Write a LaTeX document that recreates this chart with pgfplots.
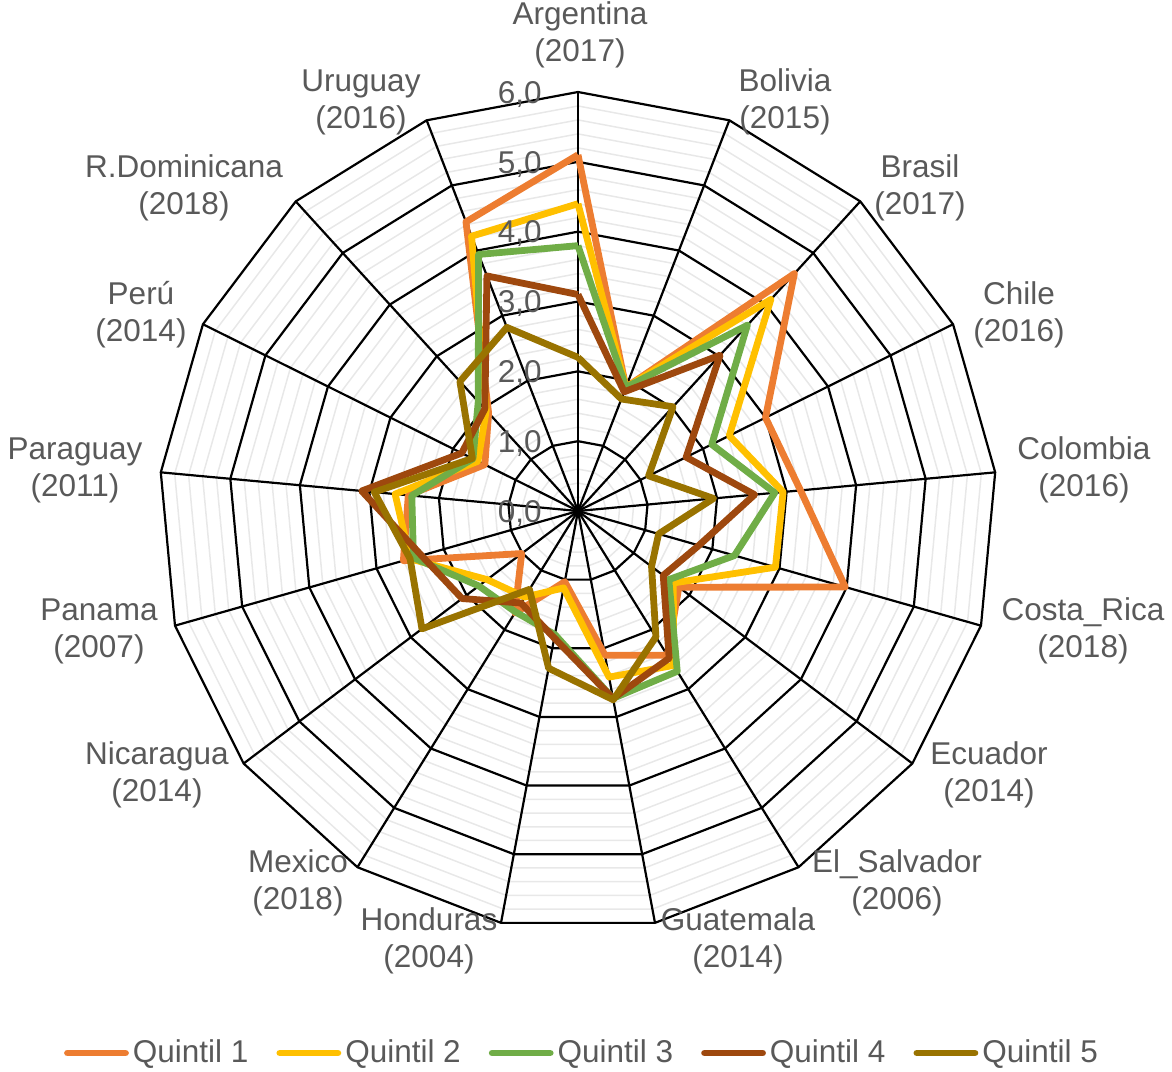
\documentclass[border=0pt]{standalone}
\usepackage{pgfplots}
\pgfplotsset{compat=1.18}
\usepackage{pgfplotstable}
\usepgfplotslibrary{polar}
\usepackage{fontspec}
\setmainfont{Liberation Sans}
\definecolor{qa}{HTML}{ED7D31}
\definecolor{qb}{HTML}{FFC000}
\definecolor{qc}{HTML}{70AD47}
\definecolor{qd}{HTML}{9E480E}
\definecolor{qe}{HTML}{997300}
\definecolor{txt}{HTML}{595959}
\definecolor{mgrid}{HTML}{E8E8E8}

% angle (deg), Quintil 1..5 ; order: Argentina, Bolivia, Brasil, Chile, Colombia,
% Costa_Rica, Ecuador, El_Salvador, Guatemala, Honduras, Mexico, Nicaragua,
% Panama, Paraguay, Peru, R.Dominicana, Uruguay, (Argentina again to close)
\pgfplotstableread{
angle    q1   q2   q3   q4   q5
90       5.10 4.40 3.80 3.10 2.20
68.824   1.90 1.90 1.90 1.83 1.72
47.647   4.60 4.10 3.60 3.02 2.02
26.471   3.00 2.42 2.14 1.73 1.13
5.294    3.20 2.95 2.83 2.54 1.95
-15.882  3.98 2.94 2.33 1.80 1.20
-37.059  1.81 1.71 1.63 1.53 1.32
-58.235  2.43 2.60 2.70 2.48 2.12
-79.412  2.10 2.42 2.73 2.73 2.75
-100.588 1.03 1.12 1.80 1.85 2.29
-121.765 1.72 1.45 1.70 1.55 1.32
-142.941 1.01 1.63 1.78 2.08 2.80
-164.118 2.60 2.50 2.45 2.33 2.50
-185.294 2.44 2.63 2.39 3.11 2.93
-206.471 1.49 1.60 1.68 1.86 1.69
-227.647 1.90 1.95 2.12 1.98 2.51
-248.824 4.44 4.22 3.94 3.61 2.82
-270     5.10 4.40 3.80 3.10 2.20
}\data

\begin{document}
\begin{tikzpicture}
% polygon grid (unit = 34.9167pt per 1.0)
\foreach \m in {0,...,5}{\foreach \k in {1,...,4}{
  \pgfmathsetmacro\rr{(\m+\k/5)*34.9167}
  \draw[mgrid, line width=0.75pt] (90:\rr pt) \foreach \j in {1,...,16}{ -- ({90-\j*360/17}:\rr pt)} -- cycle;
}}
\foreach \m in {1,...,6}{
  \pgfmathsetmacro\rr{\m*34.9167}
  \draw[black, line width=1.1pt] (90:\rr pt) \foreach \j in {1,...,16}{ -- ({90-\j*360/17}:\rr pt)} -- cycle;
}
\foreach \j in {0,...,16}{
  \draw[black, line width=1.1pt] (0,0) -- ({90-\j*360/17}:209.5pt);
}

\begin{polaraxis}[
  at={(0,0)}, anchor=origin,
  width=419pt, height=419pt, scale only axis,
  ymin=0, ymax=6, hide axis, xtick=\empty, ytick=\empty, clip=false,
  legend columns=5,
  legend style={draw=none, fill=none, text=txt,
    font=\fontsize{15.75pt}{18pt}\selectfont,
    at={(0.5,0)}, anchor=center, yshift=-61.5pt, xshift=1.5pt,
    nodes={inner sep=0pt},
    /tikz/every odd column/.append style={column sep=2pt},
    /tikz/every even column/.append style={column sep=14pt}},
  legend image code/.code={\draw[#1, line cap=round] (0pt,0pt) -- (29pt,0pt);},
  every axis plot/.append style={line width=3.4pt, line join=round, no marks},
]
\addplot[qa] table[x=angle,y=q1]{\data};
\addplot[qb] table[x=angle,y=q2]{\data};
\addplot[qc] table[x=angle,y=q3]{\data};
\addplot[qd] table[x=angle,y=q4]{\data};
\addplot[qe] table[x=angle,y=q5]{\data};
\legend{Quintil 1,Quintil 2,Quintil 3,Quintil 4,Quintil 5}
\end{polaraxis}

% radial tick labels
\foreach \v in {0,...,6}{
  \pgfmathsetmacro\yy{\v*34.9167-5.64}
  \node[anchor=base east, text=txt, inner sep=0pt, font=\fontsize{15.75pt}{18pt}\selectfont] at (-18pt,\yy pt) {\v,0};
}

% category labels
\tikzset{lab/.style={align=center, text=txt, inner sep=0pt, font=\fontsize{15.75pt}{18.5pt}\selectfont}}
\node[lab] at (1pt,238pt) {Argentina\\(2017)};
\node[lab] at (103.5pt,204.5pt) {Bolivia\\(2015)};
\node[lab] at (171pt,161.5pt) {Brasil\\(2017)};
\node[lab] at (220.5pt,98pt) {Chile\\(2016)};
\node[lab] at (253pt,20.5pt) {Colombia\\(2016)};
\node[lab] at (252.5pt,-60pt) {Costa\_Rica\\(2018)};
\node[lab] at (205.5pt,-132pt) {Ecuador\\(2014)};
\node[lab] at (159.5pt,-186pt) {El\_Salvador\\(2006)};
\node[lab] at (80pt,-215pt) {Guatemala\\(2014)};
\node[lab] at (-74.5pt,-215pt) {Honduras\\(2004)};
\node[lab] at (-140pt,-186pt) {Mexico\\(2018)};
\node[lab] at (-210.5pt,-132pt) {Nicaragua\\(2014)};
\node[lab] at (-239.5pt,-60pt) {Panama\\(2007)};
\node[lab] at (-251.5pt,20.5pt) {Paraguay\\(2011)};
\node[lab] at (-218.5pt,98pt) {Perú\\(2014)};
\node[lab] at (-197pt,161.5pt) {R.Dominicana\\(2018)};
\node[lab] at (-108.5pt,204.5pt) {Uruguay\\(2016)};

% page extent matching the reference
\path (-289pt,-280pt) rectangle (297pt,255.5pt);
\end{tikzpicture}
\end{document}
